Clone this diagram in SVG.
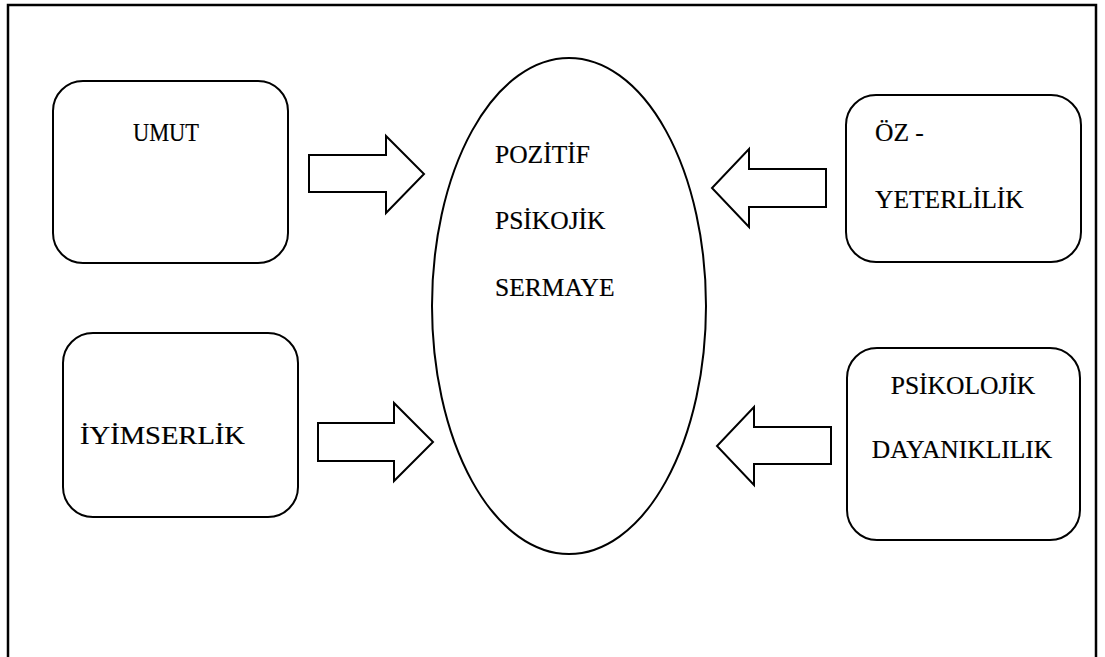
<svg xmlns="http://www.w3.org/2000/svg" width="1105" height="657" viewBox="0 0 1105 657">
<style>
.frame{fill:none;stroke:#000;stroke-width:2.5}
.box{fill:#fff;stroke:#000;stroke-width:2}
.arr{fill:#fff;stroke:#000;stroke-width:2;stroke-linejoin:miter}
.t{font-family:"Liberation Serif","Times New Roman",serif;font-size:25.5px;fill:#000;stroke:#000;stroke-width:0.2}
</style>
<rect width="1105" height="657" fill="#fff"/>
<path class="frame" d="M8,660 L8,5 L1096,5 L1096,660"/>
<g id="center">
<ellipse class="box" cx="569" cy="306" rx="137" ry="248"/>
<text class="t" x="495" y="163">POZİTİF</text>
<text class="t" x="495" y="229">PSİKOJİK</text>
<text class="t" x="495" y="296">SERMAYE</text>
</g>
<g id="umut">
<rect class="box" x="53" y="81" width="235" height="182" rx="30"/>
<text class="t" x="133" y="141" textLength="66" lengthAdjust="spacingAndGlyphs">UMUT</text>
</g>
<g id="iyimserlik">
<rect class="box" x="63" y="333" width="235" height="184" rx="30"/>
<text class="t" x="80" y="444" textLength="165" lengthAdjust="spacingAndGlyphs">İYİMSERLİK</text>
</g>
<g id="oz">
<rect class="box" x="846" y="95" width="235" height="167" rx="30"/>
<text class="t" x="875" y="141">ÖZ -</text>
<text class="t" x="875" y="208">YETERLİLİK</text>
</g>
<g id="psikolojik">
<rect class="box" x="847" y="348" width="233" height="192" rx="30"/>
<text class="t" x="963" y="394" text-anchor="middle">PSİKOLOJİK</text>
<text class="t" x="962" y="458" text-anchor="middle">DAYANIKLILIK</text>
</g>
<g id="connectors">
<polygon class="arr" points="309,155 386,155 386,136 424,174 386,213 386,192 309,192"/>
<polygon class="arr" points="826,169 749,169 749,149 712,188 749,227 749,207 826,207"/>
<polygon class="arr" points="318,423 394,423 394,403 433,442 394,481 394,461 318,461"/>
<polygon class="arr" points="831,427 754,427 754,407 717,446 754,485 754,464 831,464"/>
</g>
</svg>
